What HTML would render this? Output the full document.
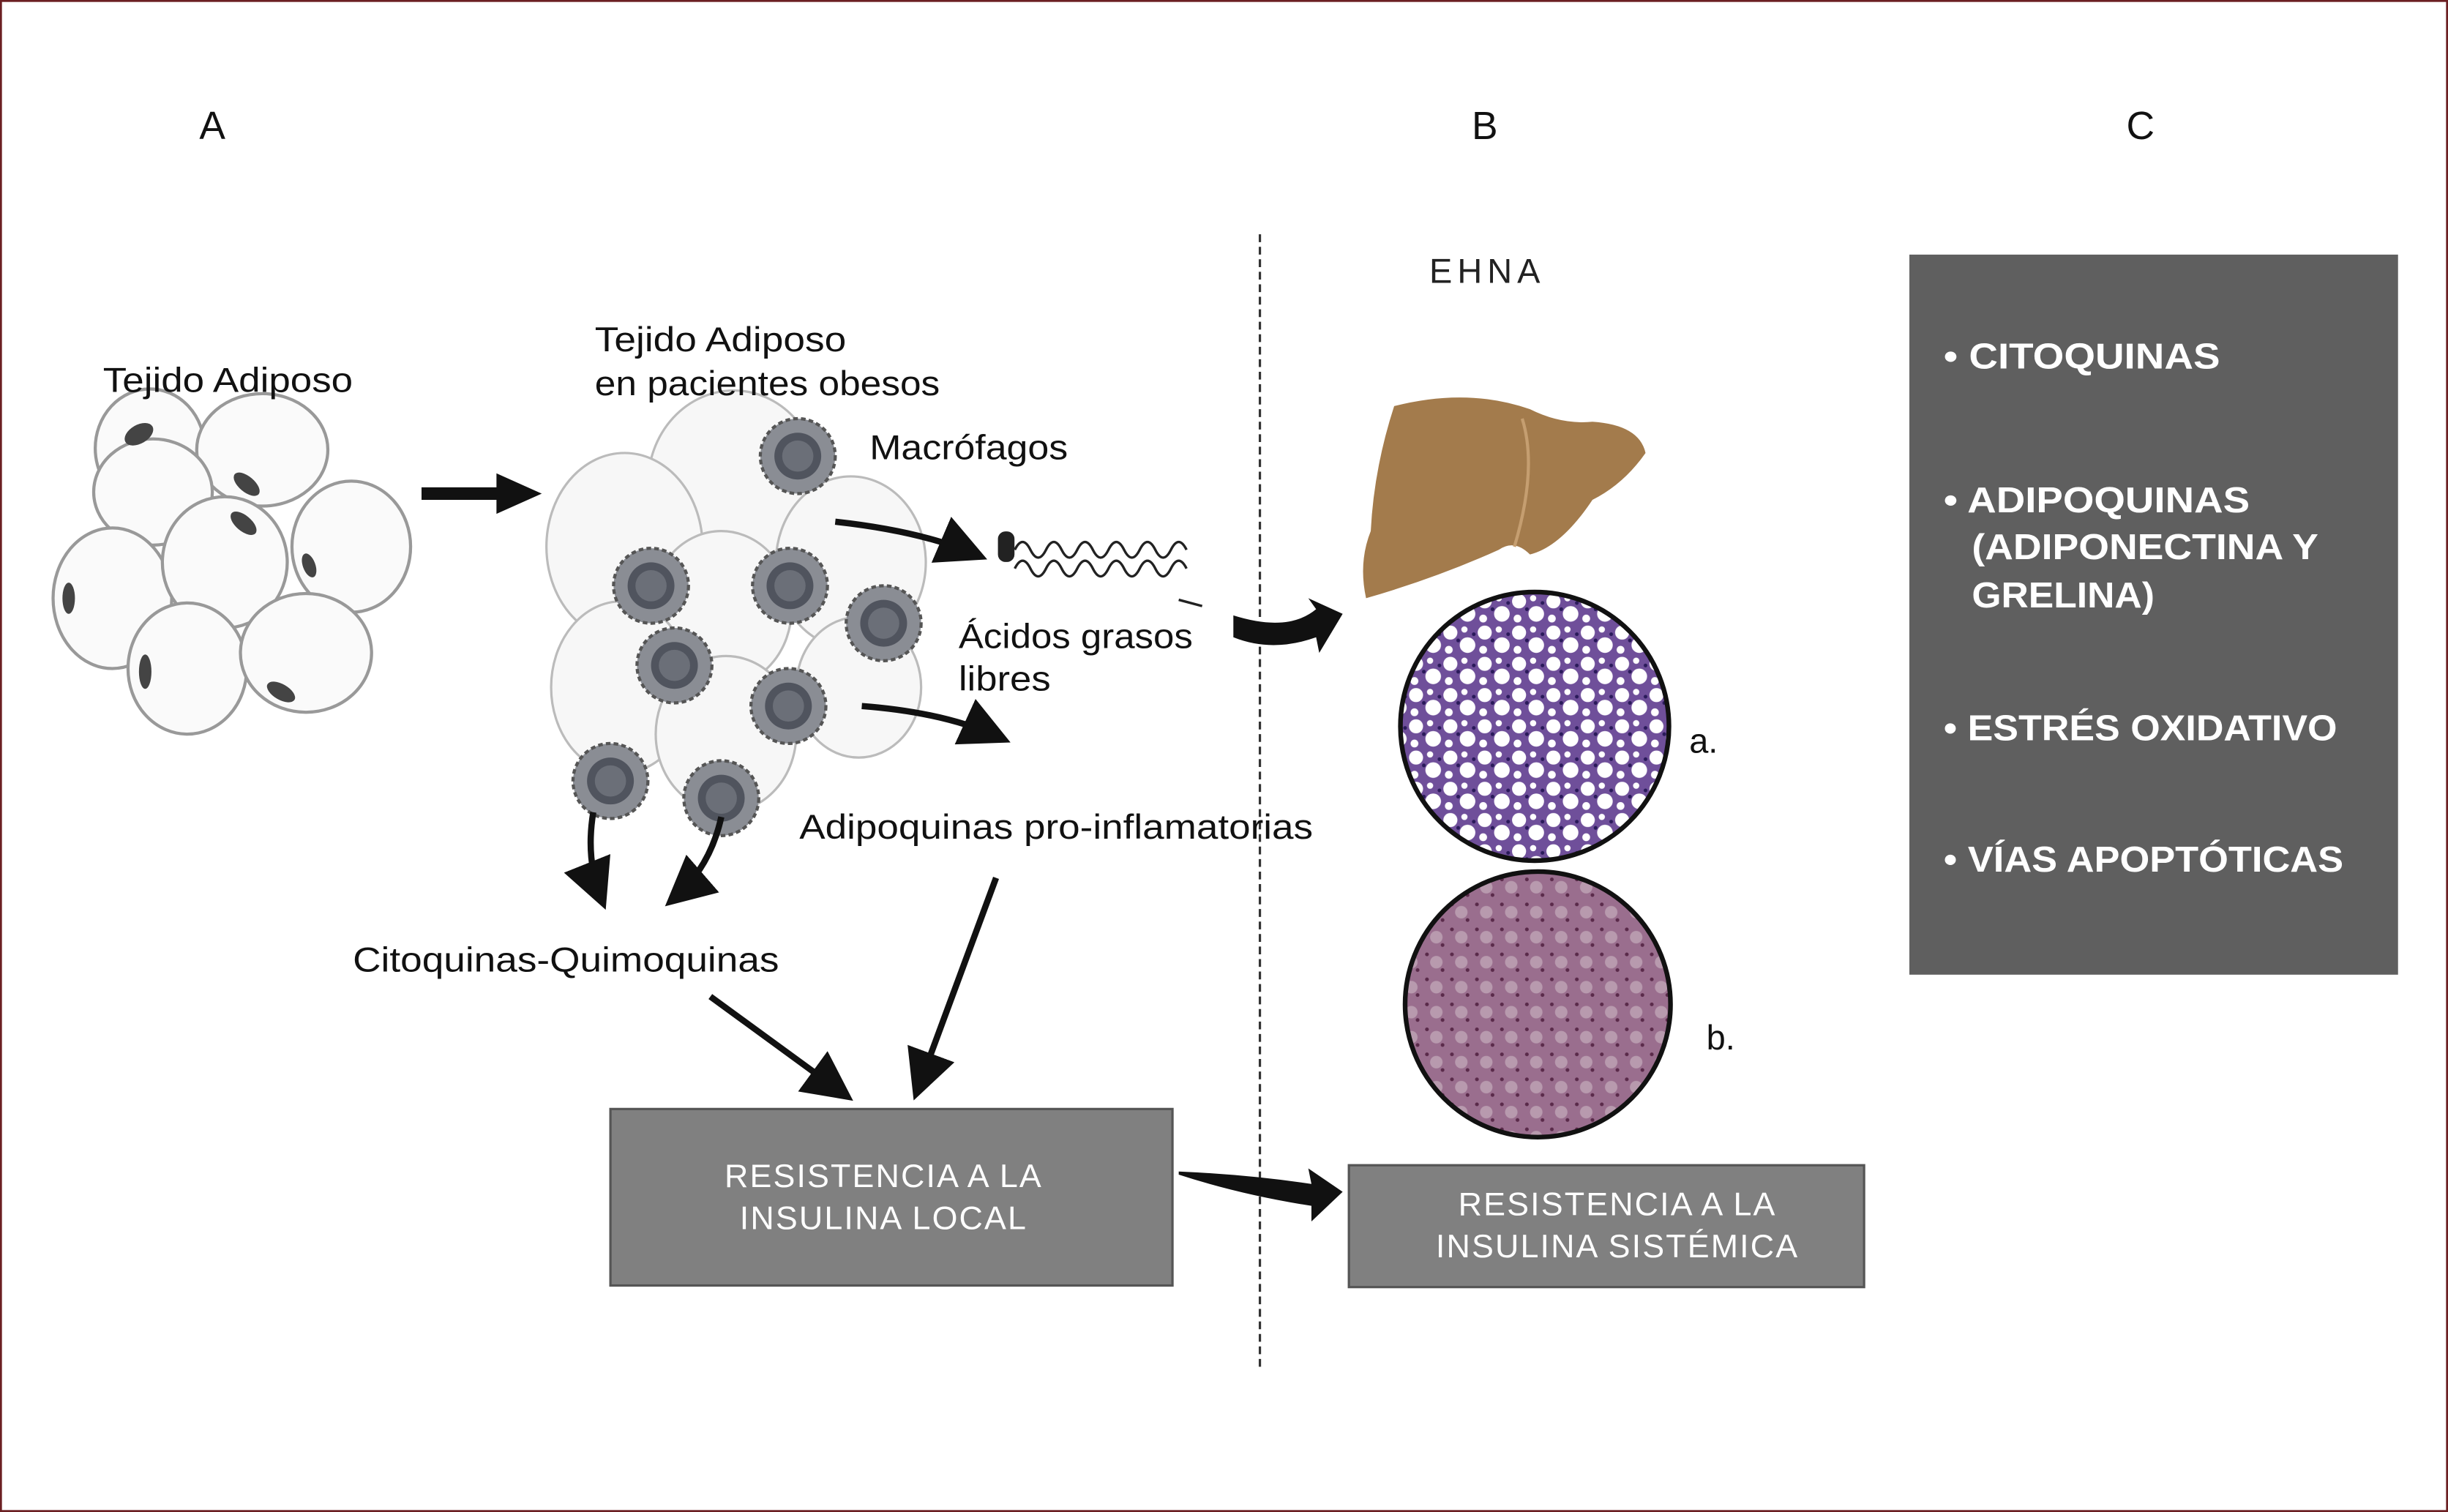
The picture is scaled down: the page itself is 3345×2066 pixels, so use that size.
<!DOCTYPE html>
<html><head><meta charset="utf-8"><style>
html,body{margin:0;padding:0;background:#fff}
svg{display:block}
text{font-family:"Liberation Sans",sans-serif}
</style></head><body>
<svg width="3345" height="2066" viewBox="0 0 1568 968" preserveAspectRatio="none" xmlns="http://www.w3.org/2000/svg">
<defs>
<pattern id="pa" width="22" height="20" patternUnits="userSpaceOnUse">
<rect width="22" height="20" fill="#6f4f9a"/>
<circle cx="5" cy="5" r="4.5" fill="#fff"/><circle cx="16" cy="13" r="5" fill="#fff"/><circle cx="14" cy="3" r="2" fill="#fff"/><circle cx="4" cy="16" r="2.5" fill="#fff"/>
<circle cx="10" cy="10" r="1.2" fill="#2a1a5a"/><circle cx="20" cy="6" r="1.2" fill="#2a1a5a"/>
</pattern>
<pattern id="pb" width="16" height="16" patternUnits="userSpaceOnUse">
<rect width="16" height="16" fill="#9a6e8e"/>
<circle cx="8" cy="8" r="4" fill="#b89aae"/>
<circle cx="2" cy="3" r="1.2" fill="#5a2a4a"/><circle cx="12" cy="13" r="1.2" fill="#5a2a4a"/>
</pattern>
<marker id="ah" markerWidth="8" markerHeight="8" refX="6" refY="4" orient="auto" markerUnits="strokeWidth"><path d="M0,0 L8,4 L0,8 Z" fill="#111"/></marker>
<g id="m"><circle r="24" fill="#8a8d94" stroke="#555" stroke-width="2" stroke-dasharray="3,2"/><circle r="15" fill="#50545e"/><circle r="10" fill="#6b6f78"/></g>
</defs>
<rect x="0.5" y="0.5" width="1567" height="967" fill="#fff" stroke="#6b1f22" stroke-width="1.5"/>

<g font-size="25" fill="#111" text-anchor="middle">
<text x="136" y="89">A</text><text x="951" y="89">B</text><text x="1371" y="89">C</text>
</g>
<line x1="807" y1="150" x2="807" y2="875" stroke="#333" stroke-width="1.5" stroke-dasharray="5,3"/>
<text x="951" y="181" font-size="22" text-anchor="middle" fill="#222" textLength="71" lengthAdjust="spacing">EHNA</text>

<!-- left normal cells -->
<g fill="#fafafa" stroke="#999" stroke-width="2">
<ellipse cx="96" cy="287" rx="35" ry="38"/>
<ellipse cx="168" cy="288" rx="42" ry="36"/>
<ellipse cx="98" cy="315" rx="38" ry="34"/>
<ellipse cx="225" cy="350" rx="38" ry="42"/>
<ellipse cx="72" cy="383" rx="38" ry="45"/>
<ellipse cx="144" cy="360" rx="40" ry="42"/>
<ellipse cx="120" cy="428" rx="38" ry="42"/>
<ellipse cx="196" cy="418" rx="42" ry="38"/>
</g>
<g fill="#444">
<ellipse cx="89" cy="278" rx="10" ry="6" transform="rotate(-30 89 278)"/>
<ellipse cx="158" cy="310" rx="10" ry="5" transform="rotate(40 158 310)"/>
<ellipse cx="156" cy="335" rx="10" ry="5" transform="rotate(40 156 335)"/>
<ellipse cx="198" cy="362" rx="8" ry="4" transform="rotate(70 198 362)"/>
<ellipse cx="44" cy="383" rx="4" ry="10"/>
<ellipse cx="93" cy="430" rx="4" ry="11"/>
<ellipse cx="180" cy="443" rx="10" ry="5" transform="rotate(30 180 443)"/>
</g>
<path d="M270 312 L318 312 L318 303 L347 316 L318 329 L318 320 L270 320 Z" fill="#111"/>

<!-- obese cluster -->
<g fill="#f7f7f7" stroke="#bbb" stroke-width="1.5">
<ellipse cx="470" cy="310" rx="55" ry="60"/>
<ellipse cx="400" cy="350" rx="50" ry="60"/>
<ellipse cx="545" cy="360" rx="48" ry="55"/>
<ellipse cx="462" cy="390" rx="45" ry="50"/>
<ellipse cx="398" cy="440" rx="45" ry="55"/>
<ellipse cx="465" cy="470" rx="45" ry="50"/>
<ellipse cx="550" cy="440" rx="40" ry="45"/>
</g>
<use href="#m" x="511" y="292"/><use href="#m" x="417" y="375"/><use href="#m" x="506" y="375"/>
<use href="#m" x="566" y="399"/><use href="#m" x="432" y="426"/><use href="#m" x="505" y="452"/>
<use href="#m" x="391" y="500"/><use href="#m" x="462" y="511"/>

<!-- fatty acid chain -->
<g fill="none" stroke="#222" stroke-width="1.6">
<rect x="640" y="341" width="9" height="18" rx="4" fill="#222"/>
<path d="M650 352 q5 -10 10 0 q5 10 10 0 q5 -10 10 0 q5 10 10 0 q5 -10 10 0 q5 10 10 0 q5 -10 10 0 q5 10 10 0 q5 -10 10 0 q5 10 10 0 q5 -10 10 0"/>
<path d="M650 364 q5 -10 10 0 q5 10 10 0 q5 -10 10 0 q5 10 10 0 q5 -10 10 0 q5 10 10 0 q5 -10 10 0 q5 10 10 0 q5 -10 10 0 q5 10 10 0 q5 -10 10 0"/>
<line x1="755" y1="384" x2="770" y2="388"/>
</g>

<!-- arrows -->
<g fill="none" stroke="#111" stroke-width="4" marker-end="url(#ah)">
<path d="M535 334 Q590 340 625 355"/>
<path d="M552 452 Q605 456 640 472"/>
<path d="M380 520 Q375 550 385 575"/>
<path d="M462 523 Q455 555 432 575"/>
<path d="M455 638 L540 700"/>
<path d="M638 562 L588 697"/>
</g>
<path d="M790 394 Q825 405 843 390 L838 383 L860 393 L845 418 L843 408 Q815 418 790 408 Z" fill="#111"/>
<path d="M755 750 Q800 752 840 758 L838 748 L860 763 L840 782 L840 772 Q795 765 755 752 Z" fill="#111"/>

<!-- labels -->
<g font-size="22" fill="#111" lengthAdjust="spacingAndGlyphs">
<text x="66" y="251" textLength="160" lengthAdjust="spacingAndGlyphs">Tejido Adiposo</text>
<text x="381" y="225" textLength="161" lengthAdjust="spacingAndGlyphs">Tejido Adiposo</text>
<text x="381" y="253" textLength="221" lengthAdjust="spacingAndGlyphs">en pacientes obesos</text>
<text x="557" y="294" textLength="127" lengthAdjust="spacingAndGlyphs">Macrófagos</text>
<text x="614" y="415" textLength="150" lengthAdjust="spacingAndGlyphs">Ácidos grasos</text>
<text x="614" y="442" textLength="59" lengthAdjust="spacingAndGlyphs">libres</text>
<text x="512" y="537" textLength="329" lengthAdjust="spacingAndGlyphs">Adipoquinas pro-inflamatorias</text>
<text x="226" y="622" textLength="273" lengthAdjust="spacingAndGlyphs">Citoquinas-Quimoquinas</text>
<text x="1082" y="482">a.</text>
<text x="1093" y="672">b.</text>
</g>

<!-- liver -->
<path d="M893 260 Q940 248 980 262 Q1000 272 1020 270 Q1050 272 1054 290 Q1040 310 1020 320 Q1000 350 980 355 Q970 345 960 352 Q920 370 875 383 Q870 360 878 340 Q880 300 893 260 Z" fill="#a37b4c"/>
<path d="M975 268 Q985 300 970 350" stroke="#c59e70" stroke-width="2" fill="none"/>

<circle cx="983" cy="465" r="86" fill="url(#pa)" stroke="#111" stroke-width="3"/>
<circle cx="985" cy="643" r="85" fill="url(#pb)" stroke="#111" stroke-width="3"/>

<!-- boxes -->
<rect x="391" y="710" width="360" height="113" fill="#808080" stroke="#555" stroke-width="1.5"/>
<g font-size="21" fill="#fff" text-anchor="middle" letter-spacing="1">
<text x="566" y="760">RESISTENCIA A LA</text>
<text x="566" y="787">INSULINA LOCAL</text>
</g>
<rect x="864" y="746" width="330" height="78" fill="#808080" stroke="#555" stroke-width="1.5"/>
<g font-size="21" fill="#fff" text-anchor="middle" letter-spacing="1">
<text x="1036" y="778">RESISTENCIA A LA</text>
<text x="1036" y="805">INSULINA SISTÉMICA</text>
</g>

<rect x="1223" y="163" width="313" height="461" fill="#5f5f5f"/>
<g font-size="23" font-weight="bold" fill="#fff">
<text x="1245" y="236" textLength="177" lengthAdjust="spacingAndGlyphs">• CITOQUINAS</text>
<text x="1245" y="328" textLength="196" lengthAdjust="spacingAndGlyphs">• ADIPOQUINAS</text>
<text x="1263" y="358" textLength="222" lengthAdjust="spacingAndGlyphs">(ADIPONECTINA Y</text>
<text x="1263" y="389" textLength="117" lengthAdjust="spacingAndGlyphs">GRELINA)</text>
<text x="1245" y="474" textLength="252" lengthAdjust="spacingAndGlyphs">• ESTRÉS OXIDATIVO</text>
<text x="1245" y="558" textLength="256" lengthAdjust="spacingAndGlyphs">• VÍAS APOPTÓTICAS</text>
</g>
</svg>
</body></html>
